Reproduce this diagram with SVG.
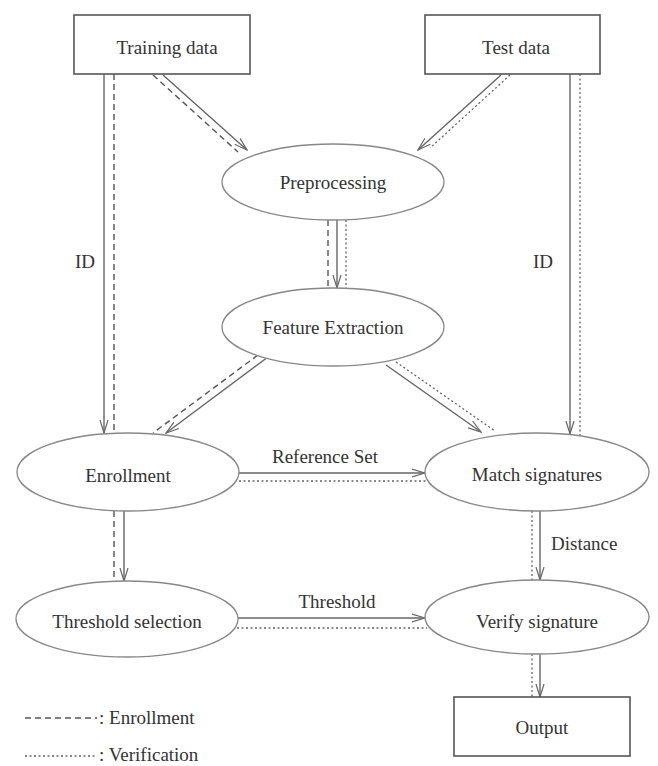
<svg xmlns="http://www.w3.org/2000/svg" width="658" height="766" viewBox="0 0 658 766">
<style>
  .box{fill:#fff;stroke:#555;stroke-width:1.6}
  .ell{fill:#fff;stroke:#888;stroke-width:1.3}
  text{font-size:19px;fill:#333}
  .t{text-anchor:middle}
  .s{stroke:#666;stroke-width:1.4;fill:none}
  .d{stroke:#555;stroke-width:1.4;fill:none;stroke-dasharray:6 4}
  .o{stroke:#666;stroke-width:1.3;fill:none;stroke-dasharray:2 2.5}
</style>
<defs>
  <marker id="ar" markerWidth="14" markerHeight="10" refX="13" refY="5" orient="auto" markerUnits="userSpaceOnUse">
    <path d="M0,1 L13,5 L0,9" fill="none" stroke="#666" stroke-width="1.2"/>
  </marker>
</defs>
<g font-family="Liberation Serif, DejaVu Serif, serif">
<g id="connectors">
  <line class="s" x1="104" y1="74" x2="104" y2="433" marker-end="url(#ar)"/>
  <line class="d" x1="114" y1="74" x2="114" y2="433"/>
  <line class="s" x1="570" y1="74" x2="570" y2="434" marker-end="url(#ar)"/>
  <line class="o" x1="580" y1="74" x2="580" y2="436"/>
  <line class="s" x1="163" y1="75" x2="247" y2="150" marker-end="url(#ar)"/>
  <line class="d" x1="153" y1="75" x2="238" y2="152"/>
  <line class="s" x1="501" y1="75" x2="418" y2="150" marker-end="url(#ar)"/>
  <line class="o" x1="510" y1="75" x2="430" y2="148"/>
  <line class="d" x1="328" y1="220" x2="328" y2="288"/>
  <line class="s" x1="337" y1="220" x2="337" y2="288" marker-end="url(#ar)"/>
  <line class="o" x1="346" y1="220" x2="346" y2="288"/>
  <line class="s" x1="268" y1="357" x2="166" y2="433" marker-end="url(#ar)"/>
  <line class="d" x1="258" y1="355" x2="153" y2="433"/>
  <line class="s" x1="386" y1="365" x2="481" y2="432" marker-end="url(#ar)"/>
  <line class="o" x1="396" y1="362" x2="495" y2="431"/>
  <line class="d" x1="114" y1="511" x2="114" y2="581"/>
  <line class="s" x1="124" y1="511" x2="124" y2="581" marker-end="url(#ar)"/>
  <line class="s" x1="239" y1="473" x2="425" y2="473" marker-end="url(#ar)"/>
  <line class="o" x1="239" y1="481" x2="427" y2="481"/>
  <line class="o" x1="532" y1="511" x2="532" y2="580"/>
  <line class="s" x1="540" y1="511" x2="540" y2="580" marker-end="url(#ar)"/>
  <line class="s" x1="238" y1="618" x2="425" y2="618" marker-end="url(#ar)"/>
  <line class="o" x1="237" y1="628" x2="427" y2="628"/>
  <line class="o" x1="532" y1="654" x2="532" y2="697"/>
  <line class="s" x1="540" y1="654" x2="540" y2="697" marker-end="url(#ar)"/>
  <text x="75" y="268">ID</text>
  <text x="533" y="268">ID</text>
  <text class="t" x="325" y="463">Reference Set</text>
  <text x="551" y="550">Distance</text>
  <text class="t" x="337" y="608">Threshold</text>
</g>
<g id="training">
  <rect class="box" x="74" y="15" width="176" height="59"/>
  <text class="t" x="167" y="54">Training data</text>
</g>
<g id="test">
  <rect class="box" x="425" y="15" width="175" height="59"/>
  <text class="t" x="516" y="54">Test data</text>
</g>
<g id="preprocessing">
  <ellipse class="ell" cx="333" cy="182" rx="111" ry="38"/>
  <text class="t" x="333" y="189">Preprocessing</text>
</g>
<g id="feature">
  <ellipse class="ell" cx="333" cy="327" rx="111" ry="39"/>
  <text class="t" x="333" y="334">Feature Extraction</text>
</g>
<g id="enrollment">
  <ellipse class="ell" cx="128" cy="472" rx="111" ry="39"/>
  <text class="t" x="128" y="482">Enrollment</text>
</g>
<g id="match">
  <ellipse class="ell" cx="537" cy="472" rx="112" ry="39"/>
  <text class="t" x="537" y="481">Match signatures</text>
</g>
<g id="threshold">
  <ellipse class="ell" cx="127" cy="619" rx="111" ry="38"/>
  <text class="t" x="127" y="628">Threshold selection</text>
</g>
<g id="verify">
  <ellipse class="ell" cx="537" cy="617" rx="112" ry="37"/>
  <text class="t" x="537" y="628">Verify signature</text>
</g>
<g id="output">
  <rect class="box" x="454" y="697" width="176" height="59"/>
  <text class="t" x="542" y="734">Output</text>
</g>
<g id="legend">
  <line class="d" x1="25" y1="718" x2="97" y2="718"/>
  <text x="99" y="724">: Enrollment</text>
  <line class="o" x1="25" y1="756" x2="97" y2="756"/>
  <text x="99" y="761">: Verification</text>
</g>
</g>
</svg>
